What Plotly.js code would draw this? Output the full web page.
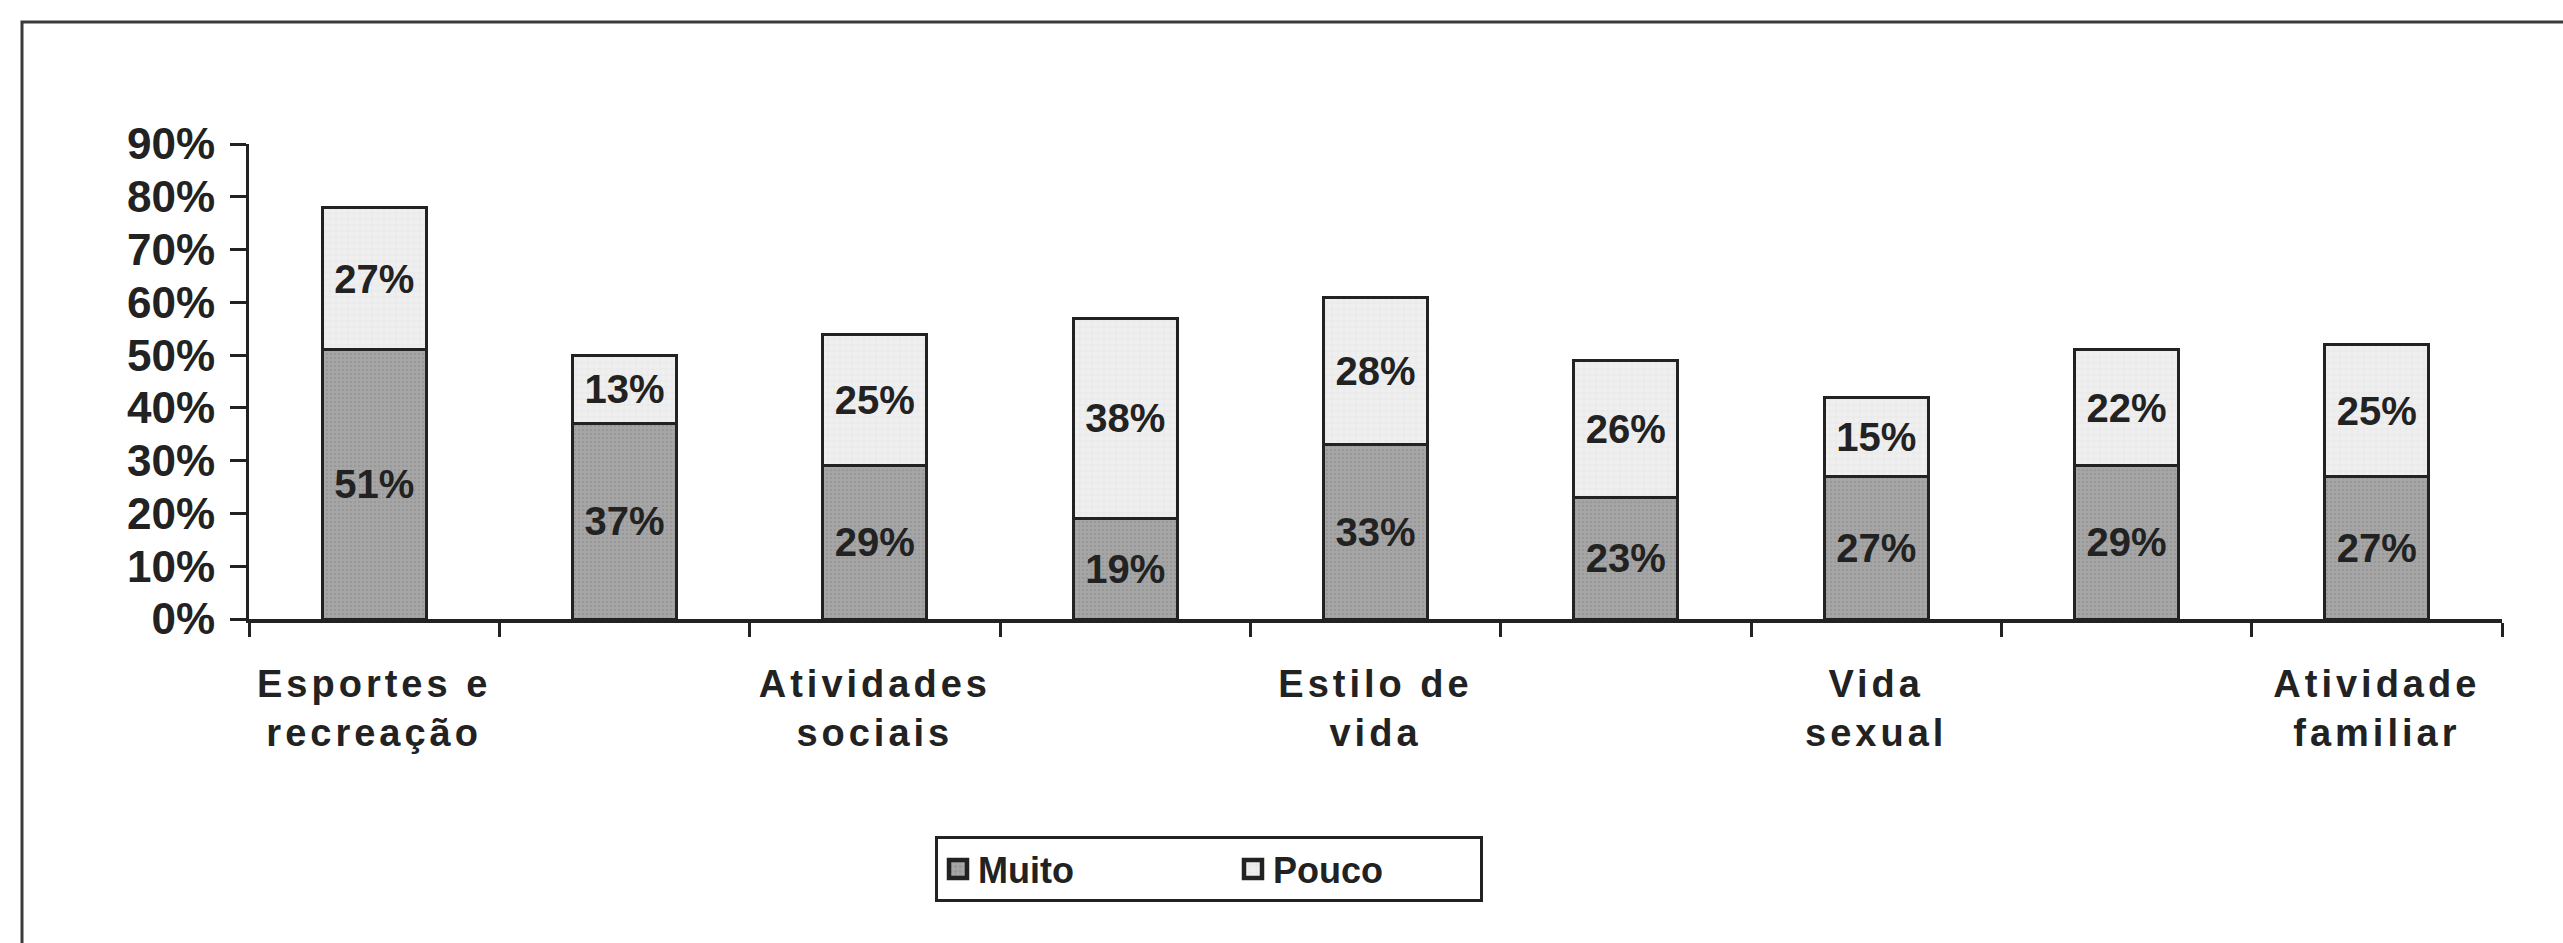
<!DOCTYPE html>
<html>
<head>
<meta charset="utf-8">
<script src="https://cdn.plot.ly/plotly-3.0.1.min.js"></script>
<style>
  html, body { margin: 0; padding: 0; background: #ffffff; }
  #grafico { width: 2563px; height: 943px; }
  #grafico .xtick text { letter-spacing: 4px; }
</style>
</head>
<body>
<div id="grafico"></div>
<script>
// Categorias do eixo (nem todas recebem rótulo)
const categorias = ['Esportes e recreação', 'Item 2', 'Atividades sociais', 'Item 4',
  'Estilo de vida', 'Item 6', 'Vida sexual', 'Item 8', 'Atividade familiar'];
const rotulos = ['Esportes e<br>recreação', '', 'Atividades<br>sociais', '',
  'Estilo de<br>vida', '', 'Vida<br>sexual', '', 'Atividade<br>familiar'];

// Percentuais por categoria
const muito = [51, 37, 29, 19, 33, 23, 27, 29, 27];
const pouco = [27, 13, 25, 38, 28, 26, 15, 22, 25];

// Escala do eixo Y
const ticksY = [0, 10, 20, 30, 40, 50, 60, 70, 80, 90];
const rotulosY = ['0%', '10%', '20%', '30%', '40%', '50%', '60%', '70%', '80%', '90%'];

const fonte = '"Liberation Sans", Arial, sans-serif';
const tinta = '#222222';

function serie(nome, valores, cor, padrao) {
  return {
    type: 'bar',
    name: nome,
    x: categorias,
    y: valores,
    text: valores.map(v => v + '%'),
    texttemplate: '%{text}',
    textposition: 'inside',
    insidetextanchor: 'middle',
    textangle: 0,
    constraintext: 'none',
    textfont: { family: fonte, size: 40, weight: 'bold', color: tinta },
    marker: {
      color: cor,
      line: { color: tinta, width: 3 },
      pattern: padrao
    },
    hoverinfo: 'skip'
  };
}

const dados = [
  serie('Muito', muito, '#a6a6a6',
    { shape: '.', fillmode: 'overlay', fgcolor: '#8c8c8c', size: 4, solidity: 0.35 }),
  serie('Pouco', pouco, '#efefef',
    { shape: '+', fillmode: 'overlay', fgcolor: '#cccccc', size: 6, solidity: 0.12 })
];

// Área de plotagem em pixels: x 249–2502, y 144–619
const L = 249, R = 2502, T = 144, B = 619;
const px = v => (v - L) / (R - L);
const py = v => (B - v) / (B - T);

const layout = {
  width: 2563,
  height: 943,
  margin: { l: L, r: 2563 - R, t: T, b: 943 - B, pad: 0 },
  paper_bgcolor: '#ffffff',
  plot_bgcolor: '#ffffff',
  barmode: 'stack',
  bargap: 0.585,
  showlegend: true,
  font: { family: fonte, color: tinta },
  xaxis: {
    type: 'category',
    tickvals: categorias,
    ticktext: rotulos,
    tickson: 'boundaries',
    ticks: 'outside',
    ticklen: 14,
    tickwidth: 3,
    tickcolor: tinta,
    showline: true,
    linecolor: tinta,
    linewidth: 4,
    showgrid: false,
    zeroline: false,
    ticklabelstandoff: 28,
    tickfont: { family: fonte, size: 38, weight: 'bold', color: tinta },
    fixedrange: true
  },
  yaxis: {
    range: [0, 90],
    tickvals: ticksY,
    ticktext: rotulosY,
    ticks: 'outside',
    ticklen: 16,
    tickwidth: 3,
    tickcolor: tinta,
    showline: true,
    linecolor: tinta,
    linewidth: 3,
    showgrid: false,
    zeroline: false,
    ticklabelstandoff: 6,
    tickfont: { family: fonte, size: 44, weight: 'bold', color: tinta },
    fixedrange: true
  },
  legend: {
    orientation: 'h',
    x: px(935),
    xanchor: 'left',
    y: py(836),
    yanchor: 'top',
    traceorder: 'normal',
    bgcolor: '#ffffff',
    bordercolor: tinta,
    borderwidth: 3,
    entrywidth: 250,
    entrywidthmode: 'pixels',
    font: { family: fonte, size: 36, weight: 'bold', color: tinta }
  },
  shapes: [
    // moldura externa do gráfico
    {
      type: 'rect', xref: 'paper', yref: 'paper', layer: 'below',
      x0: px(22), x1: px(2620), y0: py(1000), y1: py(22),
      line: { color: '#3a3a3a', width: 3 },
      fillcolor: 'rgba(0,0,0,0)'
    }
  ]
};

Plotly.newPlot('grafico', dados, layout, { displayModeBar: false, staticPlot: true })
  .then(() => {
    // amostras da legenda um pouco maiores
    document.querySelectorAll('#grafico .legendpoints path').forEach(p => {
      const t = p.getAttribute('transform') || '';
      p.setAttribute('transform', t + ' scale(1.5)');
    });
    // caixa da legenda mais justa à direita
    const fundo = document.querySelector('#grafico .legend rect.bg');
    if (fundo) fundo.setAttribute('width', '545');
  });
</script>
</body>
</html>
